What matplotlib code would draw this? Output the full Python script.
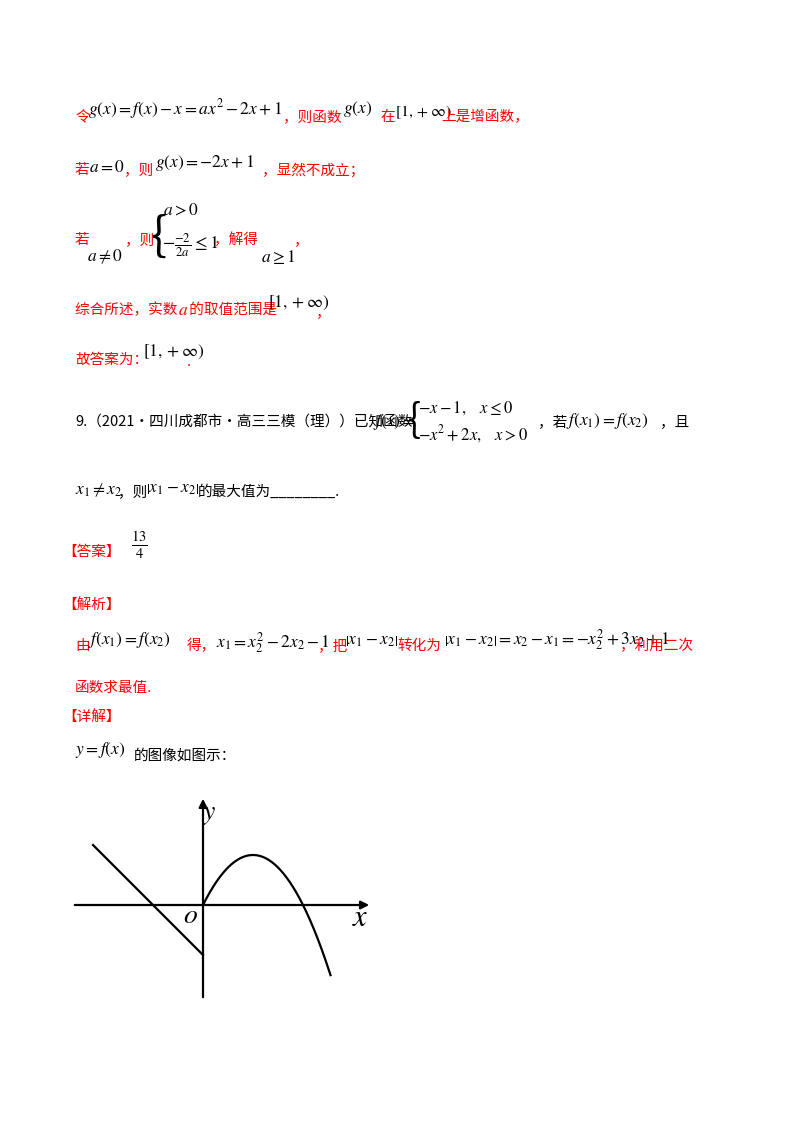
import matplotlib
matplotlib.use("Agg")
import matplotlib.pyplot as plt
import numpy as np

plt.rcParams['font.family'] = ['Noto Sans CJK SC', 'DejaVu Sans']
plt.rcParams['mathtext.fontset'] = 'stix'

W, H = 800, 1132
fig = plt.figure(figsize=(8, 11.32), dpi=100)
RED = '#ff0000'

def T(x, y, s, c='black', size=10.5, **kw):
    fig.text(x / W, 1 - y / H, s, color=c, fontsize=size, va='center', ha='left', **kw)

def M(x, y, s, size=12.5, c='black'):
    T(x, y, s, c, size)

# Block 1
T(75, 117, '令', RED)
M(88, 109, r'$g\left(x\right)=f\left(x\right)-x=ax^2-2x+1$')
T(283, 117, '，则函数', RED)
M(343, 109, r'$g\left(x\right)$')
T(380, 117, '在', RED)
M(395, 112, r'$[1,+\infty)$', size=11.5)
T(441, 117, '上是增函数，', RED)

T(75, 170, '若', RED)
M(89, 167, r'$a=0$')
T(124, 170, '，则', RED)
M(155, 163, r'$g\left(x\right)=-2x+1$')
T(262, 170, '，显然不成立；', RED)

T(75, 240, '若', RED)
M(87, 257, r'$a\neq 0$')
T(125, 240, '，则', RED)
M(150, 238, '{', size=34)
M(163, 210, r'$a>0$')
M(162, 245, r'$-\frac{-2}{2a}\leq 1$', size=13)
T(214, 240, '，解得', RED)
M(261, 257, r'$a\geq 1$')
T(294, 240, '，', RED)

T(75, 310, '综合所述，实数 ', RED)
M(178, 310, r'$a$', c=RED)
T(186, 310, ' 的取值范围是', RED)
M(268, 303, r'$\left[1,+\infty\right)$')
T(316, 312, '，', RED)

T(75, 360, '故答案为：', RED)
M(143, 352, r'$\left[1,+\infty\right)$')
T(187, 362, '.', RED)

# Problem 9
T(75, 422, '9.（2021·四川成都市·高三三模（理））已知函数')
M(373, 422, r'$f(x)=$')
M(408, 421, '{', size=28)
M(418, 408, r'$-x-1,\quad x\leq 0$', size=12)
M(418, 434, r'$-x^2+2x,\quad x>0$', size=12)
T(538, 422, '，若')
M(566, 421, r'$f\left(x_1\right)=f\left(x_2\right)$')
T(660, 422, '，且')

M(75, 490, r'$x_1\neq x_2$')
T(118, 492, '，则')
M(146, 488, r'$\left|x_1-x_2\right|$')
T(198, 492, '的最大值为________.')

T(62, 552, '【答案】', RED)
M(131, 545, r'$\frac{13}{4}$', size=15)

T(62, 605, '【解析】', RED)
T(75, 646, '由', RED)
M(88, 640, r'$f\left(x_1\right)=f\left(x_2\right)$')
T(187, 646, '得，', RED)
M(216, 643, r'$x_1=x_2^2-2x_2-1$')
T(318, 646, '，把', RED)
M(345, 640, r'$\left|x_1-x_2\right|$')
T(397, 646, '转化为', RED)
M(444, 640, r'$\left|x_1-x_2\right|=x_2-x_1=-x_2^2+3x_2+1$')
T(620, 646, '，利用二次', RED)
T(75, 688, '函数求最值.', RED)
T(62, 717, '【详解】', RED)
M(75, 750, r'$y=f\left(x\right)$')
T(134, 756, '的图像如图示：')

# Graph
x_left = np.linspace(-2.2, 0, 50)
y_left = -x_left - 1
x_right = np.linspace(0, 2.55, 200)
y_right = -x_right**2 + 2 * x_right

px0, px1, py0, py1 = 72, 372, 796, 1000
ox, oy, unit = 203, 905, 50
ax = fig.add_axes([px0 / W, 1 - py1 / H, (px1 - px0) / W, (py1 - py0) / H])
ax.set_xlim((px0 - ox) / unit, (px1 - ox) / unit)
ax.set_ylim((oy - py1) / unit, (oy - py0) / unit)
ax.axis('off')
ax.plot(x_left, y_left, color='black', lw=1.6)
ax.plot(x_right, y_right, color='black', lw=1.6)
xl, xr = ax.get_xlim()
yb, yt = ax.get_ylim()
ax.annotate('', xy=(xr, 0), xytext=(xl, 0),
            arrowprops=dict(arrowstyle='-|>', color='black', lw=1.6, mutation_scale=12))
ax.annotate('', xy=(0, yt), xytext=(0, yb),
            arrowprops=dict(arrowstyle='-|>', color='black', lw=1.6, mutation_scale=12))
M(202, 812, r'$y$', size=20)
M(352, 918, r'$x$', size=22)
M(183, 915, r'$o$', size=20)

fig.savefig('out.png', dpi=100)
